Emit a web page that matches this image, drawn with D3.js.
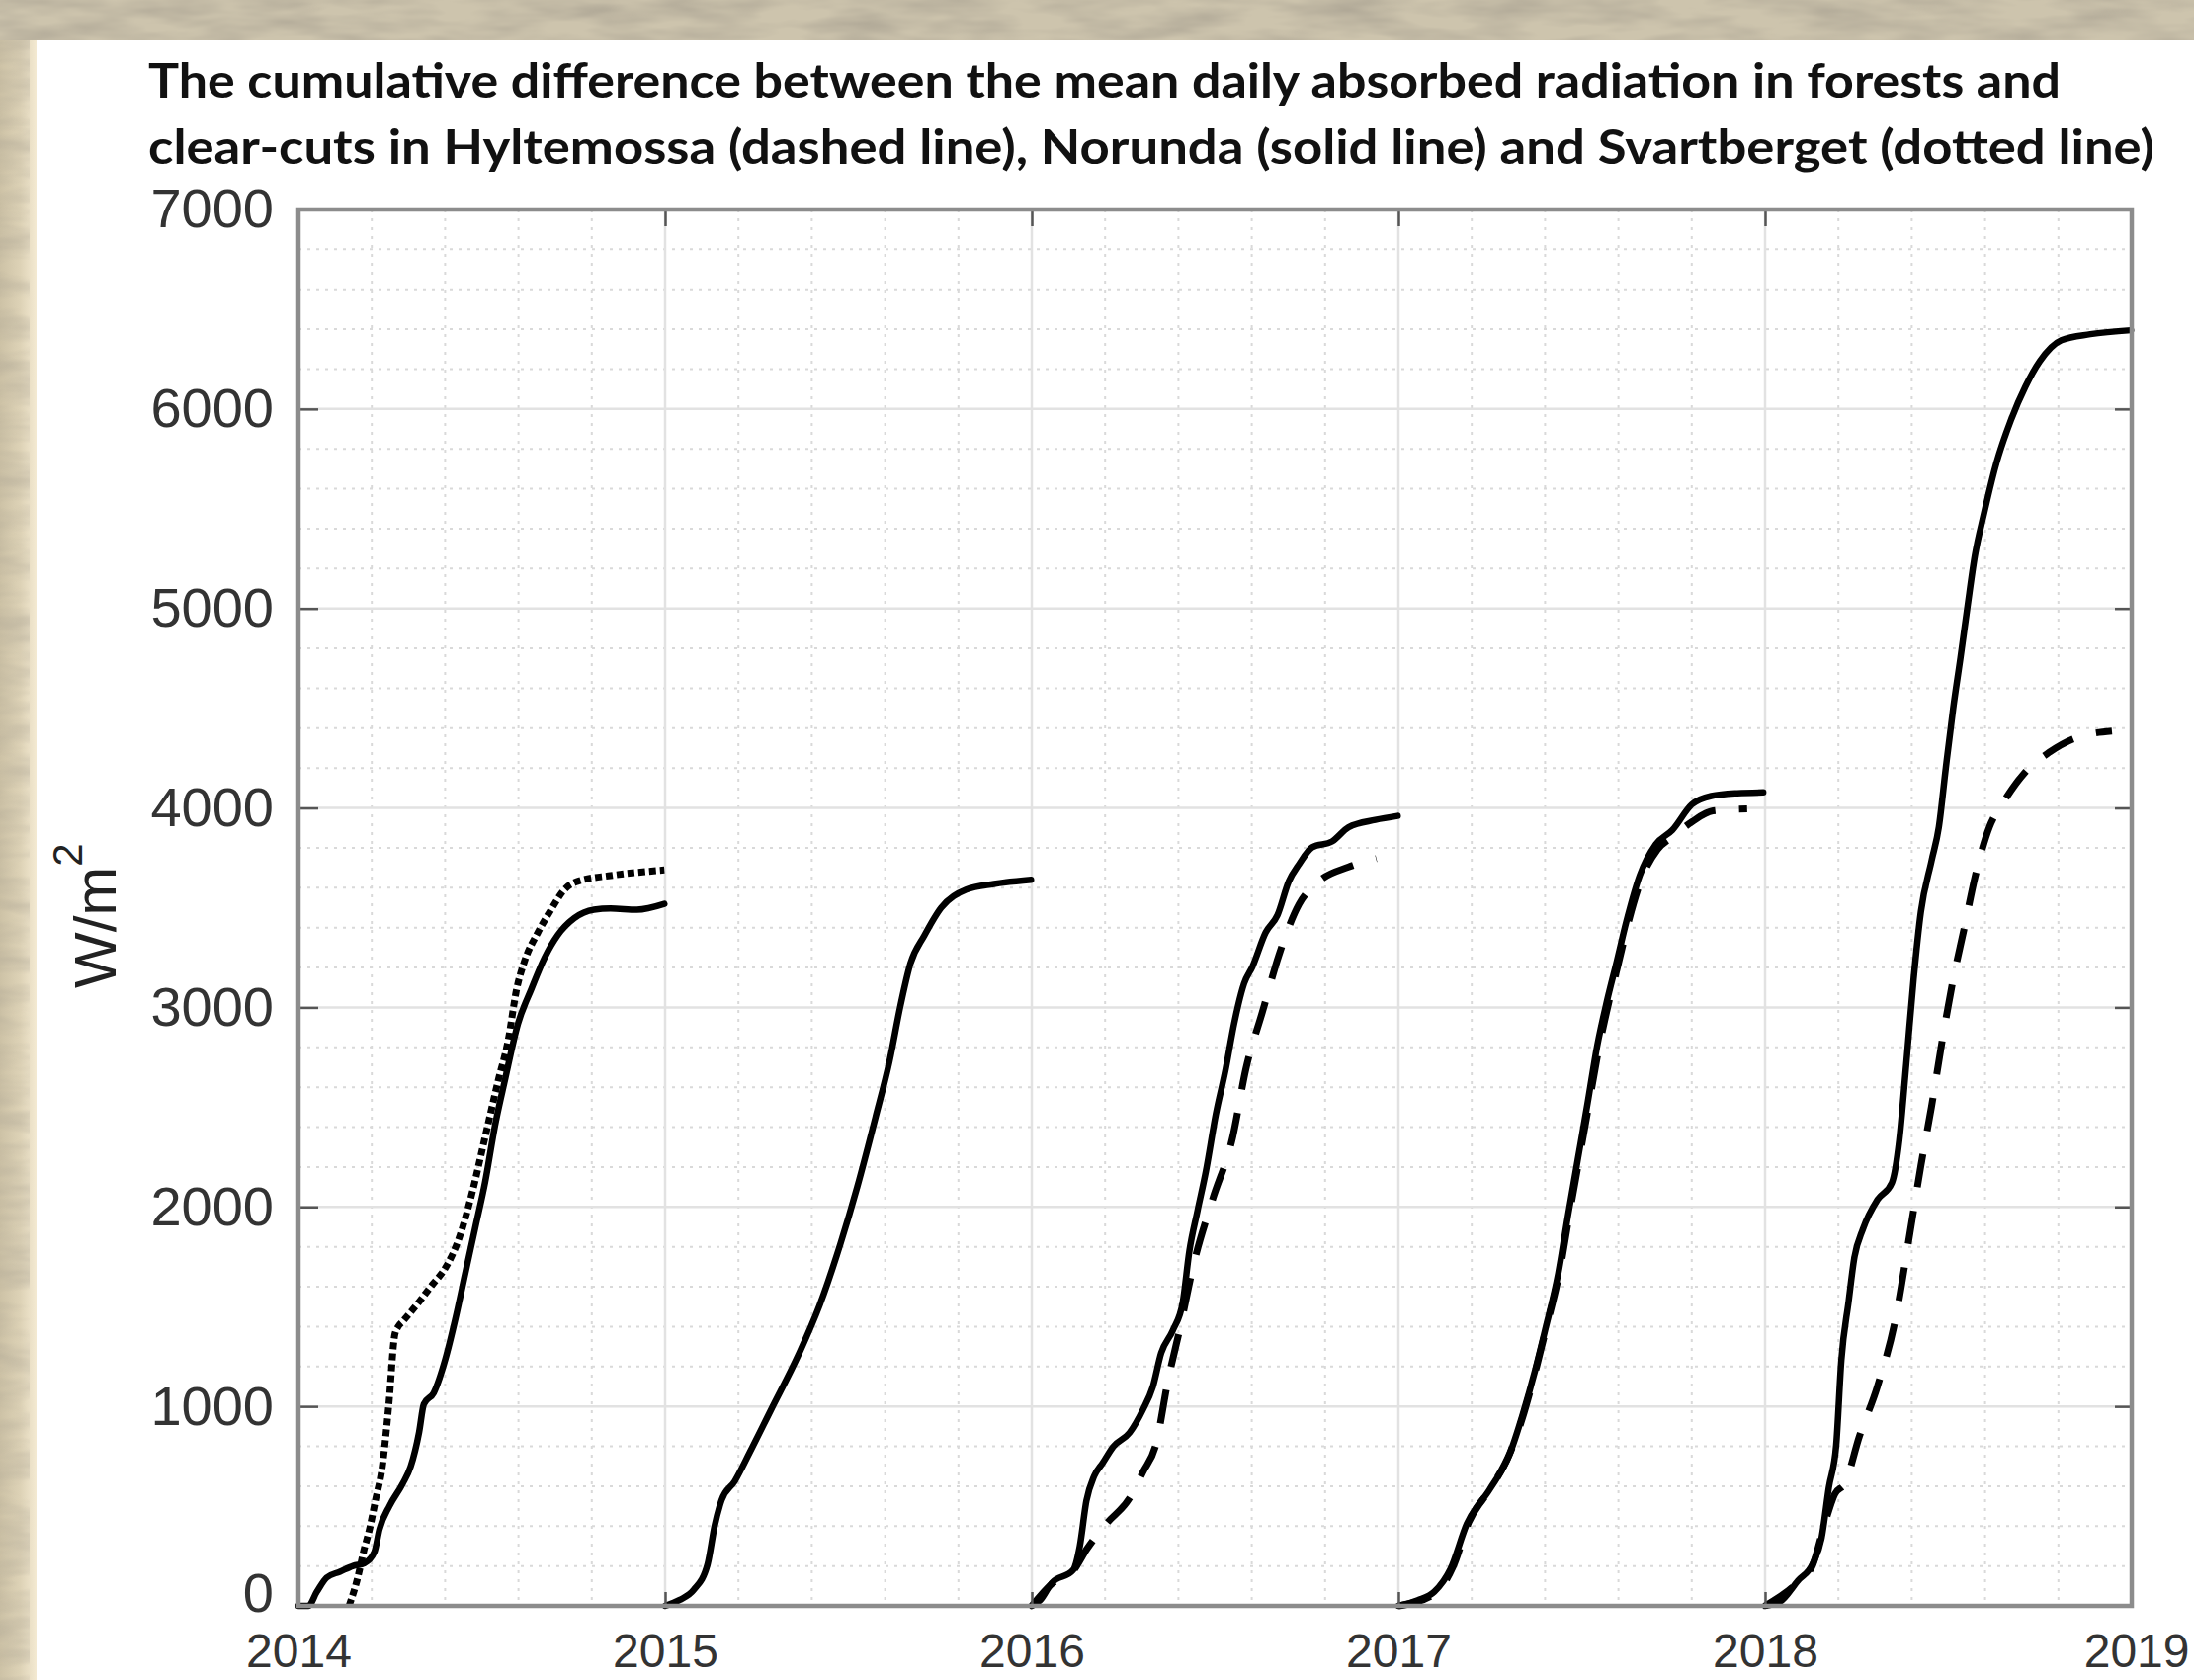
<!DOCTYPE html>
<html>
<head>
<meta charset="utf-8">
<script src="https://cdn.jsdelivr.net/npm/d3@7"></script>
<style>
  html, body { margin: 0; padding: 0; background: #ffffff; }
  svg { display: block; }
</style>
</head>
<body>
<svg id="chart" width="2220" height="1700"></svg>
<script>
// ---------------- DATA ----------------
const titleLines = [
  "The cumulative difference between the mean daily absorbed radiation in forests and",
  "clear-cuts in Hyltemossa (dashed line), Norunda (solid line) and Svartberget (dotted line)"
];
const yLabelMain = "W/m";
const yLabelSup = "2";
const yearTicks = [2014, 2015, 2016, 2017, 2018, 2019];
const yTicks = [0, 1000, 2000, 3000, 4000, 5000, 6000, 7000];

// Norunda (solid line) — [decimal year, W/m2]
const norunda2014 = [[2014.000,0],[2014.027,0],[2014.050,70],[2014.077,142],[2014.113,171],[2014.149,200],[2014.180,214],[2014.207,270],[2014.221,385],[2014.248,500],[2014.284,612],[2014.306,698],[2014.329,870],[2014.342,1011],[2014.369,1068],[2014.401,1239],[2014.428,1439],[2014.455,1667],[2014.482,1895],[2014.509,2123],[2014.536,2407],[2014.563,2635],[2014.599,2920],[2014.635,3091],[2014.671,3248],[2014.707,3362],[2014.752,3447],[2014.806,3490],[2014.851,3496],[2014.923,3490],[2014.998,3519]];
const norunda2015 = [[2015.000,0],[2015.040,30],[2015.078,80],[2015.116,210],[2015.135,400],[2015.154,530],[2015.190,625],[2015.231,770],[2015.288,980],[2015.364,1260],[2015.421,1505],[2015.479,1820],[2015.524,2100],[2015.574,2450],[2015.612,2730],[2015.642,3010],[2015.669,3220],[2015.707,3360],[2015.753,3500],[2015.821,3590],[2015.897,3619],[2015.998,3640]];
const norunda2016 = [[2016.000,0],[2016.023,28],[2016.054,114],[2016.113,180],[2016.131,299],[2016.149,527],[2016.170,650],[2016.194,718],[2016.222,798],[2016.267,869],[2016.303,983],[2016.330,1097],[2016.353,1268],[2016.385,1382],[2016.412,1524],[2016.430,1781],[2016.452,1980],[2016.475,2179],[2016.502,2464],[2016.529,2692],[2016.552,2920],[2016.579,3120],[2016.602,3205],[2016.638,3376],[2016.670,3462],[2016.701,3632],[2016.729,3718],[2016.765,3803],[2016.819,3832],[2016.864,3903],[2016.937,3940],[2016.998,3960]];
const norunda2017 = [[2017.000,0],[2017.053,28],[2017.098,71],[2017.142,185],[2017.187,413],[2017.249,584],[2017.302,755],[2017.338,954],[2017.373,1182],[2017.400,1382],[2017.436,1667],[2017.462,1952],[2017.489,2236],[2017.516,2521],[2017.542,2806],[2017.569,3034],[2017.596,3234],[2017.622,3433],[2017.658,3661],[2017.702,3818],[2017.747,3889],[2017.800,4017],[2017.853,4060],[2017.924,4074],[2017.995,4078]];
const norunda2018 = [[2018.000,0],[2018.041,21],[2018.090,127],[2018.130,212],[2018.154,340],[2018.174,594],[2018.194,806],[2018.208,1231],[2018.228,1528],[2018.243,1740],[2018.267,1889],[2018.307,2037],[2018.346,2122],[2018.366,2334],[2018.385,2716],[2018.405,3141],[2018.425,3480],[2018.454,3735],[2018.474,3905],[2018.493,4202],[2018.513,4499],[2018.533,4754],[2018.552,5008],[2018.572,5263],[2018.597,5475],[2018.631,5730],[2018.670,5942],[2018.710,6112],[2018.749,6239],[2018.808,6345],[2018.887,6375],[2018.998,6395]];

// Hyltemossa (dashed line)
const hyltemossa2016 = [[2016.000,0],[2016.054,110],[2016.113,175],[2016.150,285],[2016.204,413],[2016.267,541],[2016.303,670],[2016.339,812],[2016.371,1125],[2016.403,1382],[2016.443,1724],[2016.493,2037],[2016.548,2350],[2016.584,2692],[2016.629,2977],[2016.674,3262],[2016.729,3518],[2016.783,3632],[2016.864,3704],[2016.940,3746]];
const hyltemossa2017 = [[2017.000,0],[2017.098,60],[2017.150,200],[2017.192,420],[2017.252,590],[2017.305,770],[2017.342,965],[2017.377,1200],[2017.404,1400],[2017.440,1680],[2017.466,1960],[2017.493,2240],[2017.520,2520],[2017.546,2790],[2017.573,3020],[2017.600,3220],[2017.626,3420],[2017.662,3640],[2017.706,3790],[2017.751,3860],[2017.800,3930],[2017.858,3985],[2017.951,3995]];
const hyltemossa2018 = [[2018.000,0],[2018.090,120],[2018.130,205],[2018.164,420],[2018.190,560],[2018.218,615],[2018.257,849],[2018.307,1104],[2018.356,1443],[2018.395,1868],[2018.425,2207],[2018.454,2504],[2018.484,2844],[2018.513,3141],[2018.543,3396],[2018.572,3650],[2018.612,3905],[2018.651,4032],[2018.710,4181],[2018.774,4278],[2018.847,4351],[2018.946,4385]];

// Svartberget (dotted line)
const svartberget2014 = [[2014.138,0],[2014.160,130],[2014.180,290],[2014.192,371],[2014.210,530],[2014.229,703],[2014.246,1000],[2014.263,1362],[2014.272,1400],[2014.284,1425],[2014.329,1524],[2014.365,1610],[2014.401,1695],[2014.437,1838],[2014.473,2066],[2014.509,2350],[2014.545,2635],[2014.572,2835],[2014.595,3091],[2014.617,3234],[2014.653,3376],[2014.689,3490],[2014.725,3590],[2014.761,3632],[2014.851,3661],[2014.998,3689]];

const solidSeries = [norunda2014, norunda2015, norunda2016, norunda2017, norunda2018];
const dashedSeries = [hyltemossa2016, hyltemossa2017, hyltemossa2018];
const dottedSeries = [svartberget2014];

// ---------------- LAYOUT ----------------
const W = 2220, H = 1700;
const plot = { left: 302, right: 2157, top: 212, bottom: 1625 };
const svg = d3.select("#chart");

const x = d3.scaleLinear().domain([2014, 2019]).range([plot.left, plot.right]);
const y = d3.scaleLinear().domain([0, 7000]).range([plot.bottom, plot.top]);

// ---------------- BACKGROUND ----------------
const defs = svg.append("defs");
const f = defs.append("filter").attr("id", "tex").attr("x", 0).attr("y", 0).attr("width", "100%").attr("height", "100%");
f.append("feTurbulence").attr("type", "fractalNoise").attr("baseFrequency", "0.012 0.05").attr("numOctaves", 3).attr("seed", 7).attr("result", "n");
f.append("feColorMatrix").attr("in", "n").attr("type", "matrix")
  .attr("values", "0 0 0 0 0.42  0 0 0 0 0.38  0 0 0 0 0.30  1.6 0 0 0 -0.55");
const lg = defs.append("linearGradient").attr("id", "leftg").attr("x1", 0).attr("x2", 1).attr("y1", 0).attr("y2", 0);
lg.append("stop").attr("offset", 0).attr("stop-color", "#cdc2a6");
lg.append("stop").attr("offset", 0.55).attr("stop-color", "#ddd2b6");
lg.append("stop").attr("offset", 1).attr("stop-color", "#f4ead2");

svg.append("rect").attr("x", 0).attr("y", 0).attr("width", W).attr("height", H).attr("fill", "#d2c8ae");
svg.append("rect").attr("x", 0).attr("y", 0).attr("width", 37).attr("height", H).attr("fill", "url(#leftg)");
svg.append("rect").attr("x", 0).attr("y", 0).attr("width", W).attr("height", 40).attr("fill", "#cdc4ad");
svg.append("rect").attr("x", 0).attr("y", 0).attr("width", W).attr("height", 40).attr("filter", "url(#tex)");
svg.append("rect").attr("x", 0).attr("y", 40).attr("width", 30).attr("height", H - 40).attr("filter", "url(#tex)").attr("opacity", 0.6);
svg.append("rect").attr("x", 37).attr("y", 40).attr("width", W - 37).attr("height", H - 40).attr("fill", "#ffffff");

// ---------------- TITLE ----------------
const titleY = [99, 166];
const titleLen = [1935, 2030];
svg.selectAll("text.title").data(titleLines).enter().append("text")
  .attr("class", "title")
  .attr("x", 150).attr("y", (d, i) => titleY[i])
  .attr("textLength", (d, i) => titleLen[i])
  .attr("lengthAdjust", "spacingAndGlyphs")
  .style("font-family", "Lato, 'Open Sans', sans-serif")
  .style("font-weight", "bold")
  .style("font-size", "48px")
  .attr("fill", "#111111")
  .text(d => d);

// ---------------- GRID ----------------
const g = svg.append("g");
const xMinor = d3.range(0, 26).filter(i => i % 5 !== 0).map(i => 2014 + i * 0.2);
const yMinor = d3.range(0, 36).filter(i => i % 5 !== 0).map(i => i * 200);

g.selectAll("line.xminor").data(xMinor).enter().append("line")
  .attr("x1", d => x(d)).attr("x2", d => x(d)).attr("y1", plot.top).attr("y2", plot.bottom)
  .attr("stroke", "#d9d9d9").attr("stroke-width", 2).attr("stroke-dasharray", "3,6");
g.selectAll("line.yminor").data(yMinor).enter().append("line")
  .attr("y1", d => y(d)).attr("y2", d => y(d)).attr("x1", plot.left).attr("x2", plot.right)
  .attr("stroke", "#d9d9d9").attr("stroke-width", 2).attr("stroke-dasharray", "3,6");
g.selectAll("line.xmajor").data(yearTicks.slice(1, -1)).enter().append("line")
  .attr("x1", d => x(d)).attr("x2", d => x(d)).attr("y1", plot.top).attr("y2", plot.bottom)
  .attr("stroke", "#e2e2e2").attr("stroke-width", 2.5);
g.selectAll("line.ymajor").data(yTicks.slice(1, -1)).enter().append("line")
  .attr("y1", d => y(d)).attr("y2", d => y(d)).attr("x1", plot.left).attr("x2", plot.right)
  .attr("stroke", "#e2e2e2").attr("stroke-width", 2.5);

// ---------------- SERIES ----------------
const line = d3.line().x(d => x(d[0])).y(d => y(d[1])).curve(d3.curveMonotoneX);
const lines = svg.append("g").attr("fill", "none").attr("stroke", "#000");
lines.selectAll("path.dotted").data(dottedSeries).enter().append("path")
  .attr("d", line).attr("stroke-width", 7).attr("stroke-dasharray", "7,4");
lines.selectAll("path.dashed").data(dashedSeries).enter().append("path")
  .attr("d", line).attr("stroke-width", 7).attr("stroke-dasharray", "34,24");
lines.selectAll("path.solid").data(solidSeries).enter().append("path")
  .attr("d", line).attr("stroke-width", 6.5).attr("stroke-linejoin", "round").attr("stroke-linecap", "round");

// ---------------- AXES ----------------
const tickFont = "'Liberation Sans', Arial, Helvetica, sans-serif";
function styleAxis(sel) {
  sel.select(".domain").remove();
  sel.selectAll(".tick line").attr("stroke", "#555").attr("stroke-width", 2.5);
  sel.selectAll(".tick text").attr("fill", "#333").style("font-family", tickFont).style("font-size", "56px");
}
const axL = svg.append("g").attr("transform", `translate(${plot.left},0)`)
  .call(d3.axisLeft(y).tickValues(yTicks).tickSizeInner(-20).tickSizeOuter(0).tickPadding(25).tickFormat(d3.format("d")));
styleAxis(axL);
axL.selectAll(".tick text").filter(d => d === 0).attr("dy", "0.1em");
const axB = svg.append("g").attr("transform", `translate(0,${plot.bottom})`)
  .call(d3.axisBottom(x).tickValues(yearTicks).tickSizeInner(-14).tickSizeOuter(0).tickPadding(28).tickFormat(d3.format("d")));
styleAxis(axB);
axB.selectAll(".tick text").style("font-size", "48px");
const axT = svg.append("g").attr("transform", `translate(0,${plot.top})`)
  .call(d3.axisTop(x).tickValues(yearTicks).tickSizeInner(-17).tickSizeOuter(0).tickFormat(""));
styleAxis(axT);
const axR = svg.append("g").attr("transform", `translate(${plot.right},0)`)
  .call(d3.axisRight(y).tickValues(yTicks).tickSizeInner(-17).tickSizeOuter(0).tickFormat(""));
styleAxis(axR);
// keep the last year label inside the picture
axB.selectAll(".tick text").filter(d => d === 2019).attr("text-anchor", "end").attr("x", 58);

// Box
svg.append("rect")
  .attr("x", plot.left).attr("y", plot.top)
  .attr("width", plot.right - plot.left).attr("height", plot.bottom - plot.top)
  .attr("fill", "none").attr("stroke", "#8c8c8c").attr("stroke-width", 4.5);

// Y label
const yl = svg.append("text")
  .attr("transform", "translate(117,1000) rotate(-90)")
  .attr("text-anchor", "start")
  .attr("fill", "#222")
  .style("font-family", tickFont)
  .style("font-size", "60px");
yl.append("tspan").text(yLabelMain);
yl.append("tspan").attr("dy", -34).style("font-size", "42px").text(yLabelSup);
</script>
</body>
</html>
